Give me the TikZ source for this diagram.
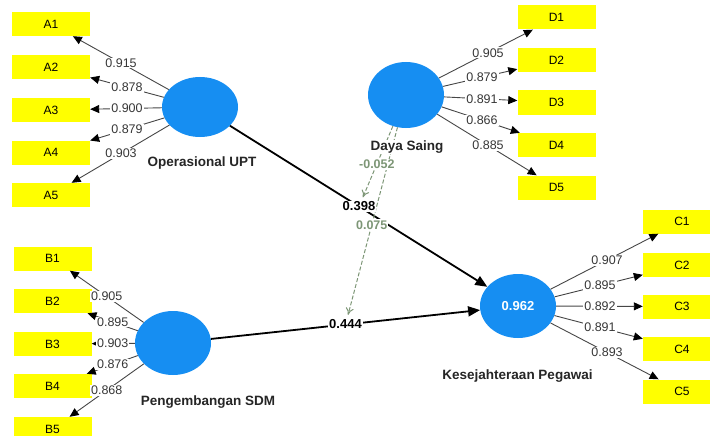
\documentclass[tikz,border=0pt]{standalone}
\usepackage{fontspec}
\setmainfont{Liberation Sans}
\usetikzlibrary{shapes.geometric,arrows.meta,calc}
\definecolor{indfill}{RGB}{255,255,0}
\definecolor{lvfill}{RGB}{22,142,242}
\definecolor{modcol}{RGB}{125,150,118}
\definecolor{linecol}{RGB}{70,70,70}
\definecolor{txtcol}{RGB}{55,55,55}
\tikzset{
  indbox/.style={rectangle,fill=indfill,minimum width=78pt,minimum height=24pt,inner sep=0pt,font=\fontsize{12}{12}\selectfont},
  lvnode/.style={ellipse,fill=lvfill,minimum width=76pt,minimum height=64pt,inner sep=0pt},
  loadline/.style={draw=linecol,line width=0.9pt,-{Triangle[length=9pt,width=8pt,black]}},
  pathline/.style={draw=black,line width=1.8pt,-{Triangle[length=12pt,width=10pt]}},
  modline/.style={draw=modcol,line width=1pt,dashed,dash pattern=on 4pt off 2pt,-{To[length=7pt,width=8pt]},shorten >=10pt},
  wlabel/.style={fill=white,inner sep=1pt,text=txtcol,font=\fontsize{12.5}{13}\selectfont},
  plabel/.style={fill=white,inner sep=1pt,text=black,font=\bfseries\fontsize{13}{13}\selectfont},
  mlabel/.style={fill=white,inner sep=1pt,text=modcol,font=\bfseries\fontsize{12.5}{13}\selectfont},
  namelabel/.style={fill=white,inner sep=1pt,text=black!85,font=\bfseries\fontsize{13.5}{14}\selectfont},
}
\begin{document}
\begin{tikzpicture}[x=1pt,y=-1pt]
\useasboundingbox (0,0) rectangle (710,436);
% indicators
\node[indbox] (A1) at (51,24) {A1};
\node[indbox] (A2) at (51,67) {A2};
\node[indbox] (A3) at (51,110) {A3};
\node[indbox] (A4) at (51,152.5) {A4};
\node[indbox] (A5) at (51,195) {A5};
\node[indbox] (B1) at (52.5,258.5) {B1};
\node[indbox] (B2) at (52.5,301) {B2};
\node[indbox] (B3) at (52.5,344) {B3};
\node[indbox] (B4) at (52.5,386) {B4};
\node[indbox] (B5) at (52.5,429) {B5};
\node[indbox] (D1) at (556.5,17.5) {D1};
\node[indbox] (D2) at (556.5,60) {D2};
\node[indbox] (D3) at (556.5,102.5) {D3};
\node[indbox] (D4) at (556.5,145) {D4};
\node[indbox] (D5) at (556.5,187.5) {D5};
\node[indbox] (C1) at (682,221.5) {C1};
\node[indbox] (C2) at (682,265) {C2};
\node[indbox] (C3) at (682,306.5) {C3};
\node[indbox] (C4) at (682,349) {C4};
\node[indbox] (C5) at (682,391.5) {C5};
% latent variables
\node[lvnode,minimum height=60pt] (op) at (200,107) {};
\node[lvnode] (pdm) at (173,343) {};
\node[lvnode,minimum height=66pt] (ds) at (406,95) {};
\node[lvnode,text=white,font=\bfseries\fontsize{13}{13}\selectfont] (kp) at (518,306) {0.962};
% outer loadings
\foreach \i in {1,...,5} {
  \draw[loadline] (op) -- (A\i);
  \draw[loadline] (pdm) -- (B\i);
  \draw[loadline] (ds) -- (D\i);
  \draw[loadline] (kp) -- (C\i);
}
% structural paths
\coordinate (m1) at ($(op)!0.5!(kp)$);
\coordinate (m2) at ($(pdm)!0.5!(kp)$);
\draw[pathline] (op) -- (kp);
\draw[pathline] (pdm) -- (kp);
% moderation
\draw[modline] (ds) -- (m1);
\draw[modline] (ds) -- (m2);
% loading labels
\path (A1.center) -- (op.center) node[wlabel,pos=0.47] (lA1) {0.915};
\path (A2.center) -- (op.center) node[wlabel,pos=0.51] (lA2) {0.878};
\path (A3.center) -- (op.center) node[wlabel,pos=0.51] (lA3) {0.900};
\path (A4.center) -- (op.center) node[wlabel,pos=0.51] (lA4) {0.879};
\path (A5.center) -- (op.center) node[wlabel,pos=0.47] (lA5) {0.903};
\path (B1.center) -- (pdm.center) node[wlabel,pos=0.45] (lB1) {0.905};
\path (B2.center) -- (pdm.center) node[wlabel,pos=0.50] (lB2) {0.895};
\path (B3.center) -- (pdm.center) node[wlabel,pos=0.50] (lB3) {0.903};
\path (B4.center) -- (pdm.center) node[wlabel,pos=0.50] (lB4) {0.876};
\path (B5.center) -- (pdm.center) node[wlabel,pos=0.45] (lB5) {0.868};
\path (D1.center) -- (ds.center) node[wlabel,pos=0.455] (lD1) {0.905};
\path (D2.center) -- (ds.center) node[wlabel,pos=0.495] (lD2) {0.879};
\path (D3.center) -- (ds.center) node[wlabel,pos=0.495] (lD3) {0.891};
\path (D4.center) -- (ds.center) node[wlabel,pos=0.495] (lD4) {0.866};
\path (D5.center) -- (ds.center) node[wlabel,pos=0.455] (lD5) {0.885};
\path (C1.center) -- (kp.center) node[wlabel,pos=0.457] (lC1) {0.907};
\path (C2.center) -- (kp.center) node[wlabel,pos=0.50] (lC2) {0.895};
\path (C3.center) -- (kp.center) node[wlabel,pos=0.50] (lC3) {0.892};
\path (C4.center) -- (kp.center) node[wlabel,pos=0.50] (lC4) {0.891};
\path (C5.center) -- (kp.center) node[wlabel,pos=0.457] (lC5) {0.893};
% path labels
\node[plabel] (l1) at (m1) {0.398};
\node[plabel] (l2) at (m2) {0.444};
\path (ds.center) -- (m1) node[mlabel,pos=0.62] (lm1) {-0.052};
\path (ds.center) -- (m2) node[mlabel,pos=0.566] (lm2) {0.075};
% names
\node[namelabel] (nop) at (202,163) {Operasional UPT};
\node[namelabel] (npdm) at (208,402) {Pengembangan SDM};
\node[namelabel] (nds) at (407,147) {Daya Saing};
\node[namelabel] (nkp) at (517.5,376) {Kesejahteraan Pegawai};
\end{tikzpicture}
\end{document}
